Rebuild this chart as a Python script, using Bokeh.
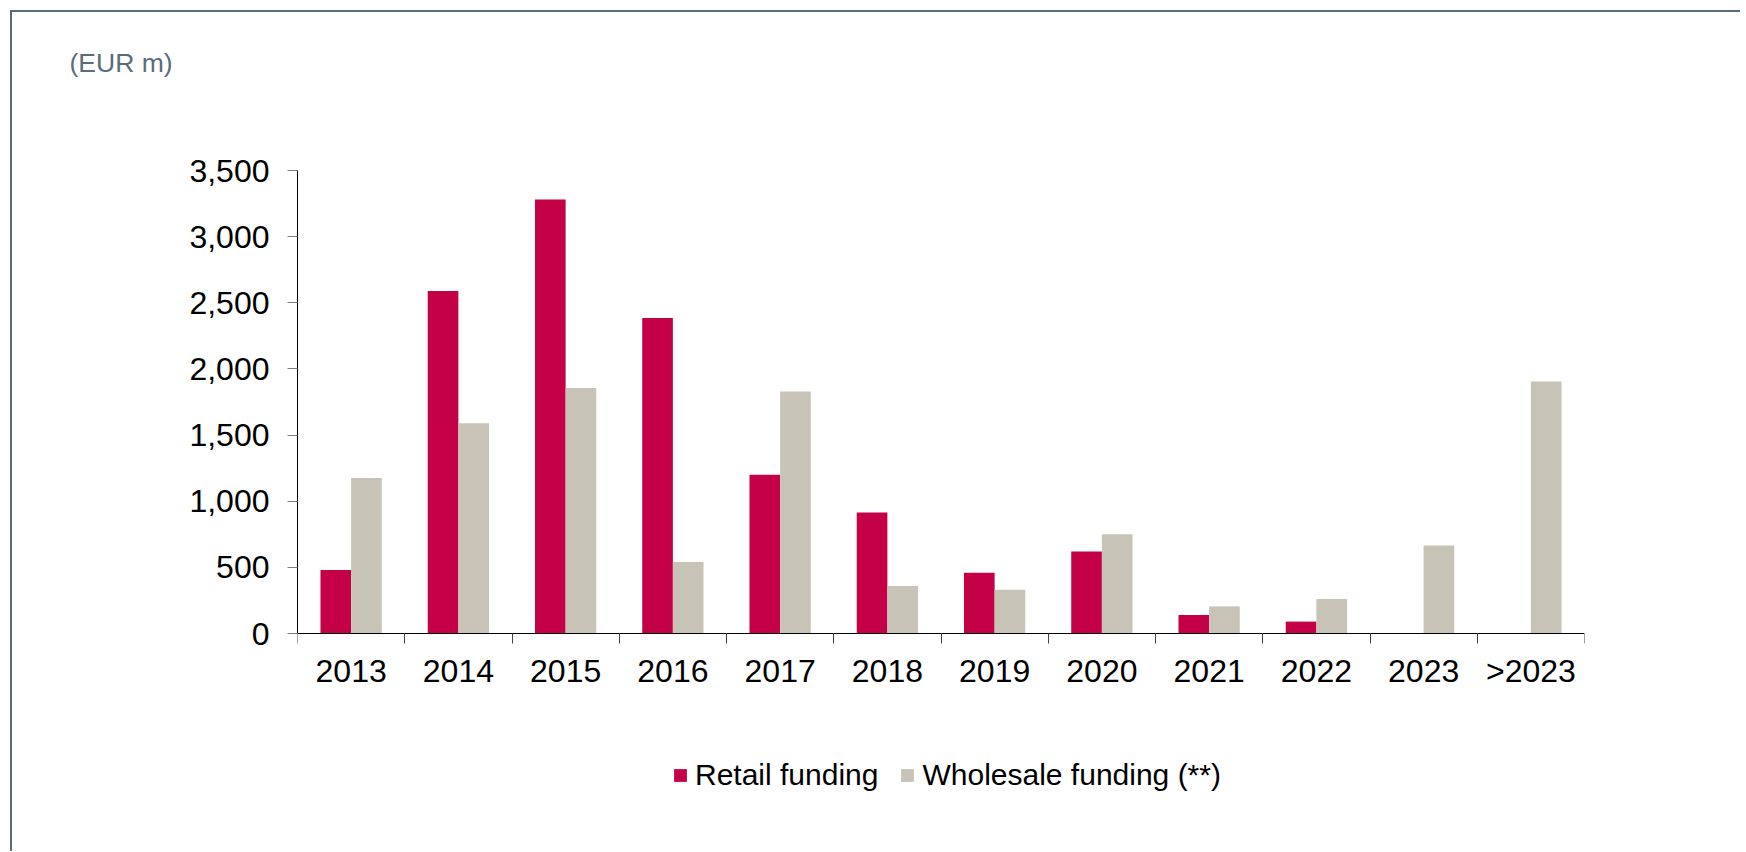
from bokeh.plotting import figure
from bokeh.models import (Range1d, FixedTicker, NumeralTickFormatter, Legend,
                          LegendItem, ColumnDataSource)
from bokeh.embed import file_html
from bokeh.resources import INLINE

# ---- data ----
categories = ["2013", "2014", "2015", "2016", "2017", "2018",
              "2019", "2020", "2021", "2022", "2023", ">2023"]
retail = [480, 2590, 3280, 2385, 1200, 915, 460, 620, 140, 90, 0, 0]
wholesale = [1175, 1590, 1855, 540, 1830, 360, 330, 750, 205, 260, 665, 1905]
y_ticks = [0, 500, 1000, 1500, 2000, 2500, 3000, 3500]
series_names = ["Retail funding", "Wholesale funding (**)"]
unit_label = "(EUR m)"

# ---- style / geometry (pixels) ----
RED = "#C40046"
GREY = "#C7C3B6"
FONT = "Liberation Sans"
FRAME_COL = "#5D6C79"

AX_TOP = 158      # canvas y of the 3,500 line
AX_BOTTOM = 621   # canvas y of the 0 line
FR_TOP = 95       # frame top (canvas)
FR_BOTTOM = 782   # frame bottom (canvas)

n = len(categories)
centers = [i + 0.5 for i in range(n)]
bw = 1 / 3.5  # gap width 150%

ymax = y_ticks[-1]
k = ymax / (AX_BOTTOM - AX_TOP)          # data units per pixel
y_hi = ymax + (AX_TOP - FR_TOP) * k
y_lo = -(FR_BOTTOM - AX_BOTTOM) * k

p = figure(frame_width=1287, frame_height=FR_BOTTOM - FR_TOP,
           output_backend="svg", toolbar_location=None,
           x_range=Range1d(0, n), y_range=Range1d(y_lo, y_hi),
           min_border_left=285, min_border_right=156,
           min_border_top=FR_TOP, min_border_bottom=57,
           title=unit_label)
p.styles = {"border-top": f"2px solid {FRAME_COL}",
            "border-left": f"2px solid {FRAME_COL}",
            "margin-top": "10px", "margin-left": "10px"}
p.background_fill_color = "white"
p.border_fill_color = "white"
p.outline_line_color = None
p.xgrid.visible = False
p.ygrid.visible = False

p.title.align = "left"
p.title.vertical_align = "bottom"
p.title.offset = -228
p.title.standoff = 60
p.title.text_font = FONT
p.title.text_font_size = "26.5px"
p.title.text_font_style = "normal"
p.title.text_color = "#5A6B7B"

src = ColumnDataSource(dict(
    xr=[c - bw / 2 for c in centers],
    xw=[c + bw / 2 for c in centers],
    retail=retail, wholesale=wholesale))
r1 = p.vbar(x="xr", top="retail", width=bw, source=src,
            fill_color=RED, line_color=None)
r2 = p.vbar(x="xw", top="wholesale", width=bw, source=src,
            fill_color=GREY, line_color=None)

# x axis at y = 0: labels at centers, ticks at category boundaries
xa = p.xaxis[0]
xa.fixed_location = 0
xa.ticker = FixedTicker(ticks=centers, minor_ticks=list(range(n + 1)))
xa.major_label_overrides = {c: cat for c, cat in zip(centers, categories)}
xa.major_tick_in = 0
xa.major_tick_out = 0
xa.minor_tick_in = 0
xa.minor_tick_out = 10
xa.minor_tick_line_color = "#404040"
xa.axis_line_color = "black"
xa.major_label_text_font = FONT
xa.major_label_text_font_size = "32px"
xa.major_label_text_color = "black"
xa.major_label_standoff = 9

ya = p.yaxis[0]
ya.bounds = (0, ymax)
ya.ticker = FixedTicker(ticks=y_ticks)
ya.formatter = NumeralTickFormatter(format="0,0")
ya.major_tick_in = 0
ya.major_tick_out = 10
ya.minor_tick_line_color = None
ya.major_tick_line_color = "#808080"
ya.axis_line_color = "black"
ya.major_label_text_font = FONT
ya.major_label_text_font_size = "32px"
ya.major_label_text_color = "black"
ya.major_label_standoff = 18

legend = Legend(items=[LegendItem(label=series_names[0], renderers=[r1]),
                       LegendItem(label=series_names[1], renderers=[r2])],
                orientation="horizontal", location=(375, 2),
                glyph_width=16, glyph_height=16, label_standoff=7, spacing=21,
                padding=0, margin=0, border_line_color=None,
                background_fill_alpha=0,
                label_text_font=FONT, label_text_font_size="30px",
                label_text_color="black")
p.add_layout(legend, "center")

open("out.html", "w").write(file_html(p, INLINE))
